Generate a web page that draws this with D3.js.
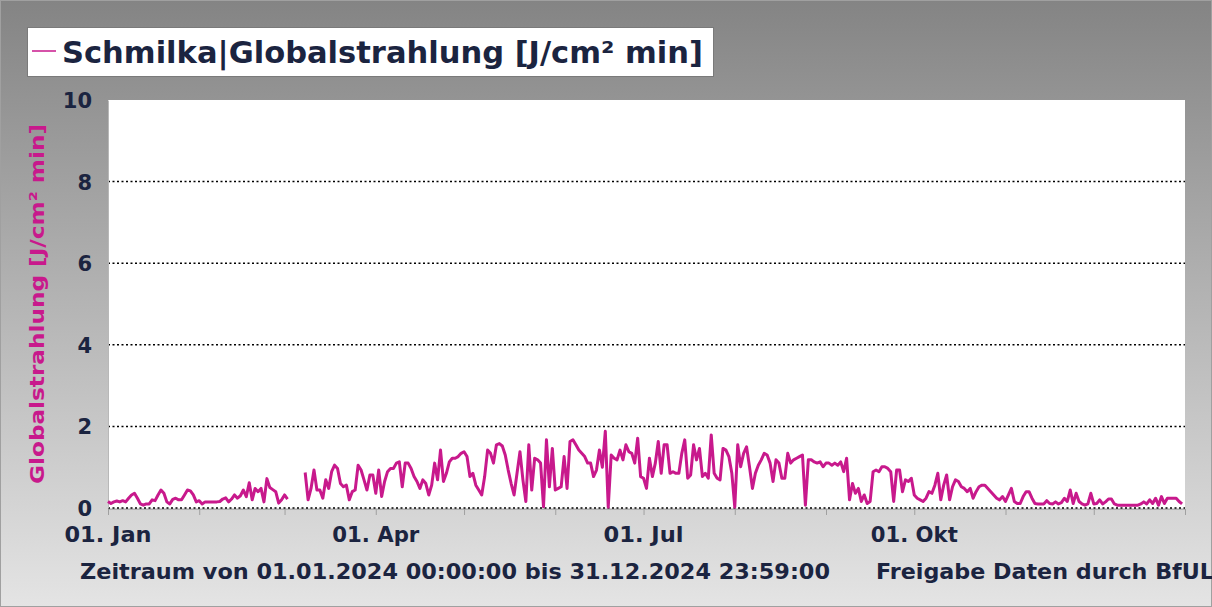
<!DOCTYPE html>
<html>
<head>
<meta charset="utf-8">
<script src="https://cdn.jsdelivr.net/npm/d3@7"></script>
<style>
  body { margin: 0; padding: 0; overflow: hidden; }
  svg text { font-family: "DejaVu Sans", Verdana, sans-serif; font-weight: bold; }
</style>
</head>
<body>
<div id="chart"></div>
<script>
// daily values 2024, per quarter (null = no data)
const q1 = [0.16,0.11,0.15,0.17,0.15,0.18,0.15,0.24,0.32,0.36,0.24,0.1,0.07,0.1,0.1,0.2,0.18,0.32,0.44,0.36,0.15,0.1,0.21,0.24,0.2,0.2,0.32,0.44,0.42,0.32,0.15,
  0.18,0.1,0.15,0.15,0.15,0.15,0.15,0.16,0.22,0.25,0.15,0.22,0.32,0.24,0.3,0.44,0.28,0.62,0.2,0.48,0.4,0.48,0.15,0.72,0.5,0.45,0.4,0.12,0.2,0.32,0.22,
  null,null,null,null,null,
  0.87,0.2,0.48,0.93,0.44,0.44,0.24,0.69,0.48,0.89,1.05,0.97,0.6,0.52,0.56,0.2,0.4,0.44,1.05,0.93,0.69,0.44,0.81,0.81];
const q2 = [0.36,0.93,0.28,0.65,0.89,0.97,0.97,1.1,
  1.13,0.52,1.1,1.1,0.97,0.77,0.65,0.48,0.69,0.6,0.32,0.56,1.1,0.69,1.42,0.65,0.85,1.13,1.22,1.22,1.26,1.34,1.38,1.26,0.77,0.85,0.56,0.44,0.32,0.77,1.42,1.34,1.1,1.55,
  1.58,1.52,1.3,0.93,0.6,0.32,0.85,1.38,0.69,0.16,1.55,0.44,1.22,1.18,1.1,0.03,1.67,0.52,1.46,0.44,0.48,0.52,1.26,0.48,1.63,1.67,1.55,1.42,1.34,1.26,1.1,1.1,0.77,0.93,
  1.42,1.0,1.88,0.02,1.3,1.22,1.18,1.42,1.18,1.55,1.38,1.34,1.1,1.71,0.77];
const q3 = [0.73,0.48,1.22,0.77,1.1,1.63,0.85,1.55,1.55,0.85,0.89,0.85,0.85,1.34,1.67,0.73,0.81,1.55,1.18,
  1.46,0.77,0.85,0.73,1.79,0.85,0.73,0.69,1.46,1.42,1.26,0.85,0.02,1.55,1.01,1.34,1.5,1.01,0.48,0.85,1.05,1.18,1.34,1.3,1.1,0.65,1.18,1.1,0.73,0.73,1.34,1.1,1.18,1.22,
  1.26,1.3,0.07,1.18,1.18,1.13,1.1,1.13,1.01,1.1,1.1,1.05,1.1,1.05,1.13,0.89,1.22,0.2,0.6,0.36,0.48,0.16,0.32,0.11,0.16,0.89,0.93,0.89,1.01,1.01,0.97,0.89,0.16,0.93,
  0.93,0.4,0.69,0.65,0.73];
const q4 = [0.32,0.24,0.2,0.16,0.24,0.4,0.36,0.56,0.85,0.2,0.56,0.81,0.2,0.52,0.69,0.65,0.52,0.48,0.4,0.48,0.24,0.4,0.52,0.56,0.56,0.48,0.4,0.32,0.24,
  0.2,0.28,0.16,0.32,0.48,0.16,0.11,0.11,0.28,0.4,0.4,0.24,0.11,0.1,0.1,0.1,0.18,0.11,0.1,0.15,0.1,0.13,0.24,0.16,0.44,0.11,0.36,0.16,0.1,0.07,0.1,0.36,0.1,0.11,0.2,
  0.1,0.15,0.22,0.22,0.1,0.07,0.07,0.07,0.07,0.07,0.07,0.07,0.07,0.1,0.15,0.1,0.2,0.11,0.24,0.07,0.28,0.11,0.24,0.24,0.24,0.24,0.16,0.1];

const yTicks = [0, 2, 4, 6, 8, 10];
const xTickLabels = ["01. Jan", "01. Apr", "01. Jul", "01. Okt"];
const xTickDates = ["2024-01-01", "2024-04-01", "2024-07-01", "2024-10-01"];

const station = "Schmilka";
const title = station + "|Globalstrahlung [J/cm² min]";
const yTitle = "Globalstrahlung [J/cm² min]";
const footLeft = "Zeitraum von 01.01.2024 00:00:00 bis 31.12.2024 23:59:00";
const footRight = "Freigabe Daten durch BfUL";

let width = 1212, height = 607;
let lineColor = "#c8198c", textColor = "#1b2440";

let values = q1.concat(q2, q3, q4);
let start = new Date(Date.UTC(2024, 0, 1));
let data = values.map(function (v, i) {
    return {date: new Date(start.getTime() + i * 864e5), value: v};
});

let svg = d3.select("#chart").append("svg")
    .attr("width", width)
    .attr("height", height);

// grey background gradient
let grad = svg.append("defs").append("linearGradient")
    .attr("id", "bg")
    .attr("x1", 0).attr("y1", 0).attr("x2", 0).attr("y2", 1);
grad.append("stop").attr("offset", "0%").attr("stop-color", "#848484");
grad.append("stop").attr("offset", "100%").attr("stop-color", "#e4e4e4");

svg.append("rect")
    .attr("x", 0.5).attr("y", 0.5)
    .attr("width", width - 1).attr("height", height - 1)
    .attr("fill", "url(#bg)")
    .attr("stroke", "#a0a0a0");

let x = d3.scaleUtc()
    .domain([start, new Date(Date.UTC(2025, 0, 1))])
    .range([108, 1185]);
let y = d3.scaleLinear()
    .domain([0, 10])
    .range([508, 100]);

// plot area
svg.append("rect")
    .attr("x", x.range()[0]).attr("y", y(10))
    .attr("width", x.range()[1] - x.range()[0])
    .attr("height", y(0) - y(10))
    .attr("fill", "white");

// dotted grid lines
svg.append("g")
    .selectAll("line")
    .data(yTicks.filter(d => d < 10))
    .enter().append("line")
    .attr("x1", x.range()[0]).attr("x2", x.range()[1])
    .attr("y1", d => y(d)).attr("y2", d => y(d))
    .attr("stroke", "#000")
    .attr("stroke-width", 1.5)
    .attr("stroke-dasharray", "2,2.5");

// y axis
let yAxis = svg.append("g")
    .attr("transform", "translate(" + x.range()[0] + ",0)")
    .call(d3.axisLeft(y).tickValues(yTicks).tickSize(0).tickPadding(16));
yAxis.select(".domain").attr("stroke", "#b8b8b8");
yAxis.selectAll("text")
    .attr("fill", textColor)
    .attr("dy", "0.36em")
    .style("font-size", "21px");

// x axis, monthly ticks, labels quarterly
let xAxis = svg.append("g")
    .attr("transform", "translate(0," + (y(0) + 1) + ")")
    .call(d3.axisBottom(x).ticks(d3.utcMonth.every(1)).tickSize(6).tickFormat(""));
xAxis.select(".domain").attr("stroke", "#b0b0b0");
xAxis.selectAll(".tick line").attr("stroke", "#a0a0a0");

svg.append("g")
    .selectAll("text")
    .data(xTickDates)
    .enter().append("text")
    .attr("x", d => x(new Date(d + "T00:00:00Z")))
    .attr("y", 542)
    .attr("text-anchor", "middle")
    .attr("fill", textColor)
    .attr("textLength", (d, i) => i == 2 ? 80 : 87)
    .attr("lengthAdjust", "spacingAndGlyphs")
    .style("font-size", "21px")
    .text((d, i) => xTickLabels[i]);

// line
let line = d3.line()
    .defined(d => d.value !== null)
    .x(d => x(d.date))
    .y(d => y(d.value));

svg.append("path")
    .datum(data)
    .attr("fill", "none")
    .attr("stroke", lineColor)
    .attr("stroke-width", 3)
    .attr("stroke-linejoin", "round")
    .attr("d", line);

// y title
svg.append("text")
    .attr("transform", "translate(44,304) rotate(-90)")
    .attr("text-anchor", "middle")
    .attr("fill", lineColor)
    .attr("textLength", 360)
    .attr("lengthAdjust", "spacingAndGlyphs")
    .style("font-size", "20px")
    .text(yTitle);

// legend box
svg.append("rect")
    .attr("x", 27.5).attr("y", 27.5)
    .attr("width", 686).attr("height", 49)
    .attr("fill", "white")
    .attr("stroke", "#7a7a7a");
svg.append("line")
    .attr("x1", 32).attr("x2", 56)
    .attr("y1", 51).attr("y2", 51)
    .attr("stroke", lineColor)
    .attr("stroke-width", 1.5);
svg.append("text")
    .attr("x", 62).attr("y", 63)
    .attr("fill", textColor)
    .attr("textLength", 641)
    .attr("lengthAdjust", "spacingAndGlyphs")
    .style("font-size", "30px")
    .text(title);

// footer
svg.append("text")
    .attr("x", 80).attr("y", 579)
    .attr("fill", textColor)
    .attr("textLength", 750)
    .attr("lengthAdjust", "spacingAndGlyphs")
    .style("font-size", "21px")
    .text(footLeft);
svg.append("text")
    .attr("x", 876).attr("y", 579)
    .attr("fill", textColor)
    .attr("textLength", 338)
    .attr("lengthAdjust", "spacingAndGlyphs")
    .style("font-size", "21px")
    .text(footRight);
</script>
</body>
</html>
